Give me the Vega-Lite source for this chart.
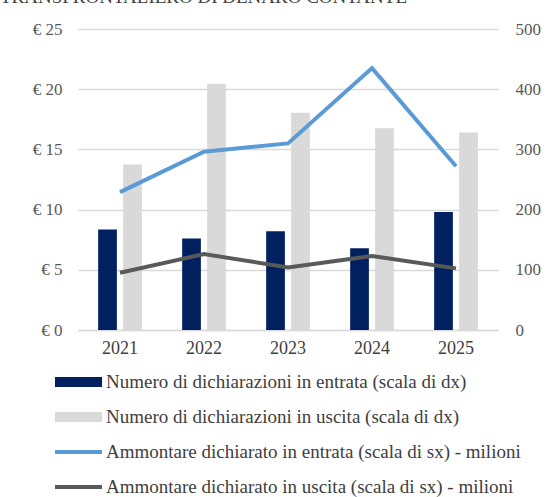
{
  "$schema": "https://vega.github.io/schema/vega-lite/v6.json",
  "width": 420,
  "height": 301,
  "autosize": {"type": "none"},
  "padding": {"left": 78, "top": 29, "right": 48, "bottom": 167},
  "background": "white",
  "title": {
    "text": "TRANSFRONTALIERO DI DENARO CONTANTE",
    "anchor": "start",
    "frame": "group",
    "dx": -78,
    "dy": 6,
    "offset": 4,
    "baseline": "alphabetic",
    "font": "Liberation Serif, Times New Roman, serif",
    "fontSize": 19,
    "fontWeight": "normal",
    "color": "#404040"
  },
  "config": {
    "view": {"stroke": null},
    "axis": {
      "labelFont": "Liberation Serif, Times New Roman, serif",
      "labelFontSize": 17,
      "labelColor": "#595959",
      "ticks": false,
      "domain": false,
      "title": null
    },
    "legend": {
      "labelFont": "Liberation Serif, Times New Roman, serif",
      "labelFontSize": 19,
      "labelColor": "#404040"
    }
  },
  "datasets": {
    "bars": [
      {"anno": "2021", "serie": "Numero di dichiarazioni in entrata (scala di dx)", "valore": 167},
      {"anno": "2022", "serie": "Numero di dichiarazioni in entrata (scala di dx)", "valore": 152},
      {"anno": "2023", "serie": "Numero di dichiarazioni in entrata (scala di dx)", "valore": 164},
      {"anno": "2024", "serie": "Numero di dichiarazioni in entrata (scala di dx)", "valore": 136},
      {"anno": "2025", "serie": "Numero di dichiarazioni in entrata (scala di dx)", "valore": 196},
      {"anno": "2021", "serie": "Numero di dichiarazioni in uscita (scala di dx)", "valore": 275},
      {"anno": "2022", "serie": "Numero di dichiarazioni in uscita (scala di dx)", "valore": 409},
      {"anno": "2023", "serie": "Numero di dichiarazioni in uscita (scala di dx)", "valore": 361},
      {"anno": "2024", "serie": "Numero di dichiarazioni in uscita (scala di dx)", "valore": 335},
      {"anno": "2025", "serie": "Numero di dichiarazioni in uscita (scala di dx)", "valore": 328}
    ],
    "lines": [
      {"anno": "2021", "serie": "Ammontare dichiarato in entrata (scala di sx) - milioni", "valore": 11.45},
      {"anno": "2022", "serie": "Ammontare dichiarato in entrata (scala di sx) - milioni", "valore": 14.8},
      {"anno": "2023", "serie": "Ammontare dichiarato in entrata (scala di sx) - milioni", "valore": 15.5},
      {"anno": "2024", "serie": "Ammontare dichiarato in entrata (scala di sx) - milioni", "valore": 21.75},
      {"anno": "2025", "serie": "Ammontare dichiarato in entrata (scala di sx) - milioni", "valore": 13.6},
      {"anno": "2021", "serie": "Ammontare dichiarato in uscita (scala di sx) - milioni", "valore": 4.75},
      {"anno": "2022", "serie": "Ammontare dichiarato in uscita (scala di sx) - milioni", "valore": 6.3},
      {"anno": "2023", "serie": "Ammontare dichiarato in uscita (scala di sx) - milioni", "valore": 5.2},
      {"anno": "2024", "serie": "Ammontare dichiarato in uscita (scala di sx) - milioni", "valore": 6.15},
      {"anno": "2025", "serie": "Ammontare dichiarato in uscita (scala di sx) - milioni", "valore": 5.12}
    ]
  },
  "layer": [
    {
      "data": {"name": "bars"},
      "mark": {"type": "bar"},
      "encoding": {
        "x": {
          "field": "anno",
          "type": "ordinal",
          "scale": {"paddingInner": 0.48, "paddingOuter": 0.24},
          "axis": {"labelAngle": 0, "labelPadding": 9, "labelColor": "#404040", "labelFontSize": 18, "domain": true, "domainColor": "#D9D9D9", "domainWidth": 1.5}
        },
        "xOffset": {
          "field": "serie",
          "type": "nominal",
          "scale": {"paddingInner": 0.25, "paddingOuter": 0}
        },
        "y": {
          "field": "valore",
          "type": "quantitative",
          "scale": {"domain": [0, 500], "nice": false},
          "axis": {"orient": "right", "values": [0, 100, 200, 300, 400, 500], "grid": true, "gridColor": "#D9D9D9", "gridWidth": 1.5, "labelPadding": 17, "labelFont": "Liberation Serif", "labelFontSize": 17}
        },
        "color": {
          "field": "serie",
          "type": "nominal",
          "scale": {
            "domain": [
              "Numero di dichiarazioni in entrata (scala di dx)",
              "Numero di dichiarazioni in uscita (scala di dx)",
              "Ammontare dichiarato in entrata (scala di sx) - milioni",
              "Ammontare dichiarato in uscita (scala di sx) - milioni"
            ],
            "range": ["#002060", "#D9D9D9", "#5B9BD5", "#595959"]
          },
          "legend": {
            "title": null,
            "orient": "none",
            "legendX": -9.5,
            "legendY": 343,
            "direction": "vertical",
            "padding": 0,
            "symbolSize": 400,
            "rowPadding": 15,
            "labelOffset": 17.5,
            "labelLimit": 500,
            "encode": {
              "symbols": {
                "update": {
                  "shape": {"signal": "indexof(datum.value, 'Numero') === 0 ? 'M-2.35,-0.5H2.35V0.5H-2.35Z' : 'M-2.35,-0.2H2.35V0.2H-2.35Z'"},
                  "fill": {"signal": "scale('color', datum.value)"},
                  "stroke": {"value": "transparent"},
                  "strokeWidth": {"value": 0},
                  "opacity": {"value": 1},
                  "fillOpacity": {"value": 1}
                }
              }
            }
          }
        }
      }
    },
    {
      "data": {"name": "lines"},
      "mark": {"type": "line", "strokeWidth": 4},
      "encoding": {
        "x": {"field": "anno", "type": "ordinal"},
        "y": {
          "field": "valore",
          "type": "quantitative",
          "scale": {"domain": [0, 25], "nice": false},
          "axis": {"orient": "left", "values": [0, 5, 10, 15, 20, 25], "grid": false, "labelPadding": 16, "labelFont": "Liberation Serif", "labelFontSize": 17, "labelExpr": "'€ ' + datum.value"}
        },
        "color": {"field": "serie", "type": "nominal"}
      }
    }
  ],
  "resolve": {"scale": {"y": "independent"}}
}
